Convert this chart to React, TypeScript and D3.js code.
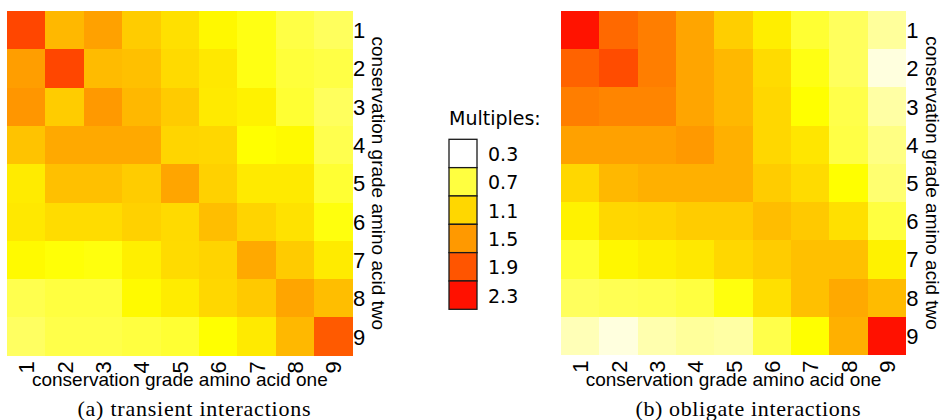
import React from "react";
import * as d3 from "d3";

// conservation grades 1..9 (rows = amino acid two, columns = amino acid one)
const grades = ["1", "2", "3", "4", "5", "6", "7", "8", "9"];
const legendValues = [0.3, 0.7, 1.1, 1.5, 1.9, 2.3];

// multiples, row by row (top = grade 1)
const transient = [
  [1.99, 1.3, 1.45, 1.17, 1.03, 0.85, 0.77, 0.69, 0.64],
  [1.47, 1.99, 1.28, 1.25, 1.08, 0.97, 0.77, 0.71, 0.69],
  [1.52, 1.17, 1.5, 1.3, 1.18, 0.96, 0.9, 0.72, 0.64],
  [1.23, 1.4, 1.4, 1.4, 1.11, 1.1, 0.8, 0.84, 0.67],
  [0.95, 1.25, 1.25, 1.17, 1.42, 1.14, 0.96, 0.96, 0.72],
  [0.97, 1.06, 1.06, 1.14, 1.08, 1.26, 1.12, 1.02, 0.78],
  [0.84, 0.79, 0.78, 0.92, 1.07, 1.12, 1.4, 1.18, 0.95],
  [0.67, 0.7, 0.7, 0.84, 0.94, 1.1, 1.19, 1.42, 1.26],
  [0.63, 0.68, 0.68, 0.7, 0.72, 0.8, 0.96, 1.3, 1.87],
];

const obligate = [
  [2.29, 1.78, 1.66, 1.42, 1.16, 0.93, 0.72, 0.64, 0.51],
  [1.82, 1.95, 1.66, 1.42, 1.3, 1.07, 0.77, 0.64, 0.37],
  [1.66, 1.62, 1.62, 1.42, 1.3, 1.1, 0.8, 0.68, 0.49],
  [1.45, 1.45, 1.45, 1.5, 1.35, 1.1, 0.99, 0.69, 0.56],
  [1.1, 1.3, 1.35, 1.35, 1.35, 1.17, 1.07, 0.8, 0.6],
  [0.9, 1.1, 1.12, 1.17, 1.17, 1.27, 1.19, 1.03, 0.7],
  [0.72, 0.86, 0.92, 0.97, 1.1, 1.17, 1.25, 1.25, 0.9],
  [0.64, 0.66, 0.67, 0.7, 0.78, 1.03, 1.25, 1.4, 1.28],
  [0.45, 0.37, 0.47, 0.51, 0.49, 0.68, 0.8, 1.35, 2.3],
];

const color = d3
  .scaleLinear<string>()
  .domain([0.3, 0.7, 0.8, 1.1, 1.5, 1.9, 2.3])
  .range(["#ffffff", "#ffff40", "#ffff00", "#ffd700", "#ff9900", "#ff5500", "#ff1100"])
  .clamp(true);

const sans = "'Liberation Sans', Arial, Helvetica, sans-serif";

function Panel({ data, x0, x1, y0, y1, caption, capX, capW }) {
  const x = d3.scaleBand().domain(grades).range([x0, x1]);
  const y = d3.scaleBand().domain(grades).range([y0, y1]);
  const fs = 22;
  return (
    <g>
      <g shapeRendering="crispEdges">
        {data.map((row, r) =>
          row.map((v, c) => (
            <rect
              key={r + "-" + c}
              x={x(grades[c])}
              y={y(grades[r])}
              width={x.bandwidth()}
              height={y.bandwidth()}
              fill={color(v)}
            />
          ))
        )}
      </g>
      {grades.map((g) => (
        <text
          key={"r" + g}
          x={x1 + 0.3}
          y={y(g) + y.bandwidth() / 2 + 8}
          fontFamily={sans}
          fontSize={fs}
        >
          {g}
        </text>
      ))}
      {grades.map((g) => (
        <text
          key={"c" + g}
          transform={`translate(${x(g) + x.bandwidth() / 2 + 8},${y1 + 5.5}) rotate(-90)`}
          textAnchor="end"
          fontFamily={sans}
          fontSize={fs}
        >
          {g}
        </text>
      ))}
      <text
        transform={`translate(${x1 + 19.5},${(y0 + y1) / 2}) rotate(90)`}
        textAnchor="middle"
        fontFamily={sans}
        fontSize={19}
      >
        conservation grade amino acid two
      </text>
      <text
        x={(x0 + x1) / 2}
        y={386}
        textAnchor="middle"
        fontFamily={sans}
        fontSize={19}
      >
        conservation grade amino acid one
      </text>
      <text
        x={capX}
        y={415.5}
        textAnchor="middle"
        fontFamily="'Liberation Serif', 'Times New Roman', serif"
        fontSize={22}
        textLength={capW}
        lengthAdjust="spacing"
      >
        {caption}
      </text>
    </g>
  );
}

function Legend() {
  const boxX = 449;
  const boxW = 28;
  const ly = d3.scaleBand().domain(legendValues.map(String)).range([139.3, 309.3]);
  return (
    <g fontFamily="'DejaVu Sans', Verdana, sans-serif">
      <text x={449} y={125} fontSize={19}>
        Multiples:
      </text>
      {legendValues.map((v) => (
        <g key={v}>
          <rect
            x={boxX}
            y={ly(String(v))}
            width={boxW}
            height={ly.bandwidth()}
            fill={color(v)}
            stroke="#1a1a1a"
            strokeWidth={1.3}
          />
          <text x={488} y={ly(String(v)) + ly.bandwidth() / 2 + 7.5} fontSize={19}>
            {v.toFixed(1)}
          </text>
        </g>
      ))}
    </g>
  );
}

export default function App() {
  return (
    <svg
      width={941}
      height={420}
      style={{ position: "absolute", left: 0, top: 0, background: "#fff" }}
    >
      <Panel
        data={transient}
        x0={7}
        x1={352.7}
        y0={11}
        y1={355.7}
        caption="(a) transient interactions"
        capX={194}
        capW={233}
      />
      <Legend />
      <Panel
        data={obligate}
        x0={561}
        x1={906}
        y0={11}
        y1={355}
        caption="(b) obligate interactions"
        capX={748}
        capW={225}
      />
    </svg>
  );
}
